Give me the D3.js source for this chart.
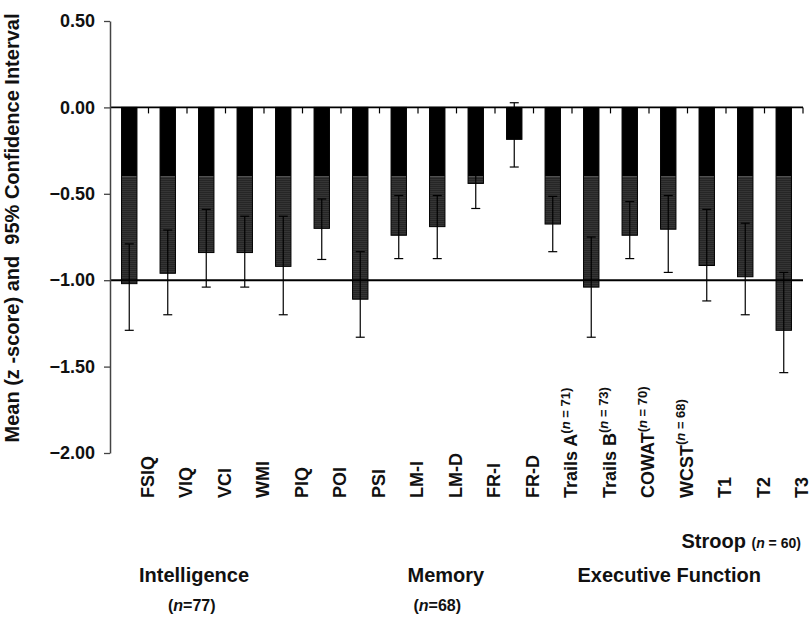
<!DOCTYPE html>
<html>
<head>
<meta charset="utf-8">
<script src="https://cdn.jsdelivr.net/npm/d3@7"></script>
<style>
  body { margin: 0; background: #fff; }
  svg { display: block; font-family: "Liberation Sans", Arial, Helvetica, sans-serif; }
</style>
</head>
<body>
<svg id="chart" width="811" height="617"></svg>
<script>
// tests on the x axis
var labels = ["FSIQ", "VIQ", "VCI", "WMI", "PIQ", "POI", "PSI", "LM-I", "LM-D", "FR-I", "FR-D",
              "Trails A", "Trails B", "COWAT", "WCST", "T1", "T2", "T3"];

var sampleNotes = ["", "", "", "", "", "", "", "", "", "", "",
                   "71", "73", "70", "68", "", "", ""];

// mean z-score
var means = [-1.02, -0.96, -0.84, -0.84, -0.92, -0.70, -1.11, -0.74, -0.69, -0.44, -0.185,
             -0.675, -1.04, -0.74, -0.705, -0.915, -0.98, -1.29];

// 95% CI, upper and lower end
var ciHigh = [-0.79, -0.71, -0.59, -0.63, -0.63, -0.53, -0.835, -0.51, -0.51, -0.30, 0.027,
              -0.515, -0.75, -0.545, -0.51, -0.59, -0.67, -0.955];
var ciLow = [-1.29, -1.20, -1.04, -1.04, -1.20, -0.88, -1.33, -0.875, -0.875, -0.585, -0.345,
             -0.835, -1.33, -0.875, -0.955, -1.12, -1.20, -1.535];

var yTicks = [0.5, 0, -0.5, -1, -1.5, -2];

// group captions under the axis
var groupNames = ["Intelligence", "Memory", "Executive Function"];
var groupStart = ["FSIQ", "LM-I", "Trails A"];
var groupN = ["77", "68", ""];

var stroopName = "Stroop";
var stroopN = "60";

var blackPart = -0.4;

var svg = d3.select('#chart');

var x = d3.scaleBand()
    .domain(labels)
    .range([110, 803])
    .paddingInner(0.6)
    .paddingOuter(0.3);

var y = d3.scaleLinear()
    .domain([-2, 0.5])
    .range([453, 21]);

var step = x.step();
var gap = (step - x.bandwidth()) / 2;

function center(d){
    return x(d) + x.bandwidth() / 2;
}

// striped fill for the lower part of the bars
var defs = svg.append('defs');
var pattern = defs.append('pattern')
    .attr('id', 'stripes')
    .attr('patternUnits', 'userSpaceOnUse')
    .attr('width', 4)
    .attr('height', 2);
pattern.append('rect').attr('width', 4).attr('height', 2).attr('fill', '#353535');
pattern.append('rect').attr('width', 4).attr('height', 0.8).attr('fill', '#222');

var bars = svg.append('g').selectAll('g')
    .data(labels)
    .enter()
    .append('g');

bars.append('rect')
    .attr('x', d => x(d))
    .attr('y', y(0))
    .attr('width', x.bandwidth())
    .attr('height', (d, i) => y(Math.max(means[i], blackPart)) - y(0))
    .attr('fill', '#000');

bars.filter((d, i) => means[i] < blackPart)
    .append('rect')
    .attr('x', d => x(d))
    .attr('y', y(blackPart))
    .attr('width', x.bandwidth())
    .attr('height', d => y(means[labels.indexOf(d)]) - y(blackPart))
    .attr('fill', 'url(#stripes)');

bars.append('rect')
    .attr('x', d => x(d))
    .attr('y', y(0))
    .attr('width', x.bandwidth())
    .attr('height', (d, i) => y(means[i]) - y(0))
    .attr('fill', 'none')
    .attr('stroke', '#000')
    .attr('stroke-width', 1);

// error bars
var errs = svg.append('g')
    .attr('stroke', '#000')
    .attr('stroke-width', 1.2)
    .selectAll('g')
    .data(labels)
    .enter()
    .append('g');

errs.append('line')
    .attr('x1', d => center(d))
    .attr('x2', d => center(d))
    .attr('y1', (d, i) => y(ciHigh[i]))
    .attr('y2', (d, i) => y(ciLow[i]));

errs.append('line')
    .attr('x1', d => center(d) - 4.5)
    .attr('x2', d => center(d) + 4.5)
    .attr('y1', (d, i) => y(ciHigh[i]))
    .attr('y2', (d, i) => y(ciHigh[i]));

errs.append('line')
    .attr('x1', d => center(d) - 4.5)
    .attr('x2', d => center(d) + 4.5)
    .attr('y1', (d, i) => y(ciLow[i]))
    .attr('y2', (d, i) => y(ciLow[i]));

// zero line with small ticks between tests
var xr = x.range();
svg.append('line')
    .attr('x1', xr[0]).attr('x2', xr[1])
    .attr('y1', y(0)).attr('y2', y(0))
    .attr('stroke', '#000')
    .attr('stroke-width', 1.6);

svg.append('g').selectAll('line')
    .data(labels)
    .enter()
    .append('line')
    .attr('x1', d => x(d) + x.bandwidth() + gap)
    .attr('x2', d => x(d) + x.bandwidth() + gap)
    .attr('y1', y(0))
    .attr('y2', y(0) + 6)
    .attr('stroke', '#000')
    .attr('stroke-width', 1.2);

// -1 reference line
svg.append('line')
    .attr('x1', xr[0]).attr('x2', xr[1])
    .attr('y1', y(-1)).attr('y2', y(-1))
    .attr('stroke', '#000')
    .attr('stroke-width', 2);

// y axis
var yAxis = d3.axisLeft(y)
    .tickValues(yTicks)
    .tickFormat(d3.format('.2f'))
    .tickSize(6)
    .tickSizeOuter(0)
    .tickPadding(9);

var gy = svg.append('g')
    .attr('transform', 'translate(110,0)')
    .call(yAxis);

gy.select('.domain').attr('stroke', '#444').attr('stroke-width', 1.5);
gy.selectAll('.tick line').attr('stroke', '#444').attr('stroke-width', 1.3);
gy.selectAll('.tick text')
    .attr('font-size', 18)
    .attr('font-weight', 'bold')
    .attr('fill', '#111')
    .attr('font-family', '"Liberation Sans", Arial, sans-serif');

svg.append('text')
    .attr('transform', 'translate(19,228) rotate(-90)')
    .attr('text-anchor', 'middle')
    .attr('font-size', 20)
    .attr('font-weight', 'bold')
    .attr('fill', '#111')
    .attr('xml:space', 'preserve')
    .text('Mean (z -score) and  95% Confidence Interval');

// test names, rotated
var names = svg.append('g').selectAll('text')
    .data(labels)
    .enter()
    .append('text')
    .attr('transform', d => 'translate(' + (center(d) + 18) + ',498) rotate(-90)')
    .attr('dy', '0.35em')
    .attr('font-size', 18)
    .attr('font-weight', 'bold')
    .attr('fill', '#111');

names.append('tspan').text(d => d);

names.filter((d, i) => sampleNotes[i] != '')
    .each(function(d){
        let n = sampleNotes[labels.indexOf(d)];
        let t = d3.select(this).append('tspan')
            .attr('dy', '-0.55em')
            .attr('font-size', 13);
        t.append('tspan').text('(');
        t.append('tspan').attr('font-style', 'italic').text('n');
        t.append('tspan').text(' = ' + n + ')');
    });

// group captions
function nCaption(sel, n){
    sel.append('tspan').text('(');
    sel.append('tspan').attr('font-style', 'italic').text('n');
    sel.append('tspan').text('=' + n + ')');
}

var captionShift = [29, 28, 44];

groupNames.forEach(function(name, i){
    let left = x(groupStart[i]) - gap + captionShift[i];

    svg.append('text')
        .attr('x', left)
        .attr('y', 582)
        .attr('font-size', 20)
        .attr('font-weight', 'bold')
        .attr('fill', '#111')
        .text(name);

    if(groupN[i] != ''){
        let t = svg.append('text')
            .attr('x', left + (i == 0 ? 29 : 6))
            .attr('y', 611)
            .attr('font-size', 16)
            .attr('font-weight', 'bold')
            .attr('fill', '#111');
        nCaption(t, groupN[i]);
    }
});

var stroop = svg.append('text')
    .attr('x', x('T1') - gap - 6)
    .attr('y', 548)
    .attr('font-weight', 'bold')
    .attr('fill', '#111');

stroop.append('tspan').attr('font-size', 20).text(stroopName + ' ');
var sn = stroop.append('tspan').attr('font-size', 14);
sn.append('tspan').text('(');
sn.append('tspan').attr('font-style', 'italic').text('n');
sn.append('tspan').text(' = ' + stroopN + ')');
</script>
</body>
</html>
